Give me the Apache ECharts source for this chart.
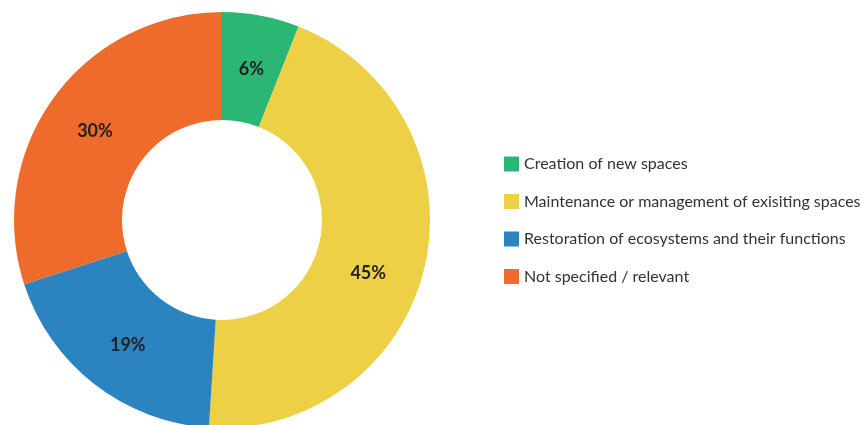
<!DOCTYPE html>
<html>
<head>
<meta charset="utf-8">
<script src="https://cdn.jsdelivr.net/npm/echarts@6/dist/echarts.min.js"></script>
<style>
  html, body { margin: 0; padding: 0; background: #ffffff; }
  #chart { width: 862px; height: 425px; }
</style>
</head>
<body>
<div id="chart"></div>
<script>
// Share of actions by type
const categories = [
  'Creation of new spaces',
  'Maintenance or management of exisiting spaces',
  'Restoration of ecosystems and their functions',
  'Not specified / relevant'
];
const shares = [6, 45, 19, 30];
const colors = ['#2bb673', '#eed047', '#2a84bf', '#ef6b2c'];
// small nudges for the in-slice percentage labels
const labelNudge = [[0, 3], [-7, 19], [2, 1], [0, 3]];

const chart = echarts.init(document.getElementById('chart'), null, { renderer: 'canvas' });

chart.setOption({
  animation: false,
  backgroundColor: '#ffffff',
  color: colors,
  legend: {
    orient: 'vertical',
    left: 499,
    top: 151,
    itemWidth: 15,
    itemHeight: 15,
    itemGap: 21.5,
    icon: 'rect',
    textStyle: {
      fontFamily: 'Lato',
      fontSize: 16,
      lineHeight: 16,
      color: '#333333'
    },
    data: categories
  },
  series: [{
    type: 'pie',
    center: [222, 220],
    radius: [100, 208],
    startAngle: 90,
    clockwise: true,
    avoidLabelOverlap: false,
    itemStyle: { borderWidth: 0 },
    label: {
      show: true,
      position: 'inside',
      formatter: '{c}%',
      fontFamily: 'Lato',
      fontWeight: 'bold',
      fontSize: 18,
      color: '#231f20'
    },
    labelLine: { show: false },
    emphasis: { disabled: true },
    data: categories.map((name, i) => ({
      name,
      value: shares[i],
      label: { offset: labelNudge[i] }
    }))
  }]
});
</script>
</body>
</html>
